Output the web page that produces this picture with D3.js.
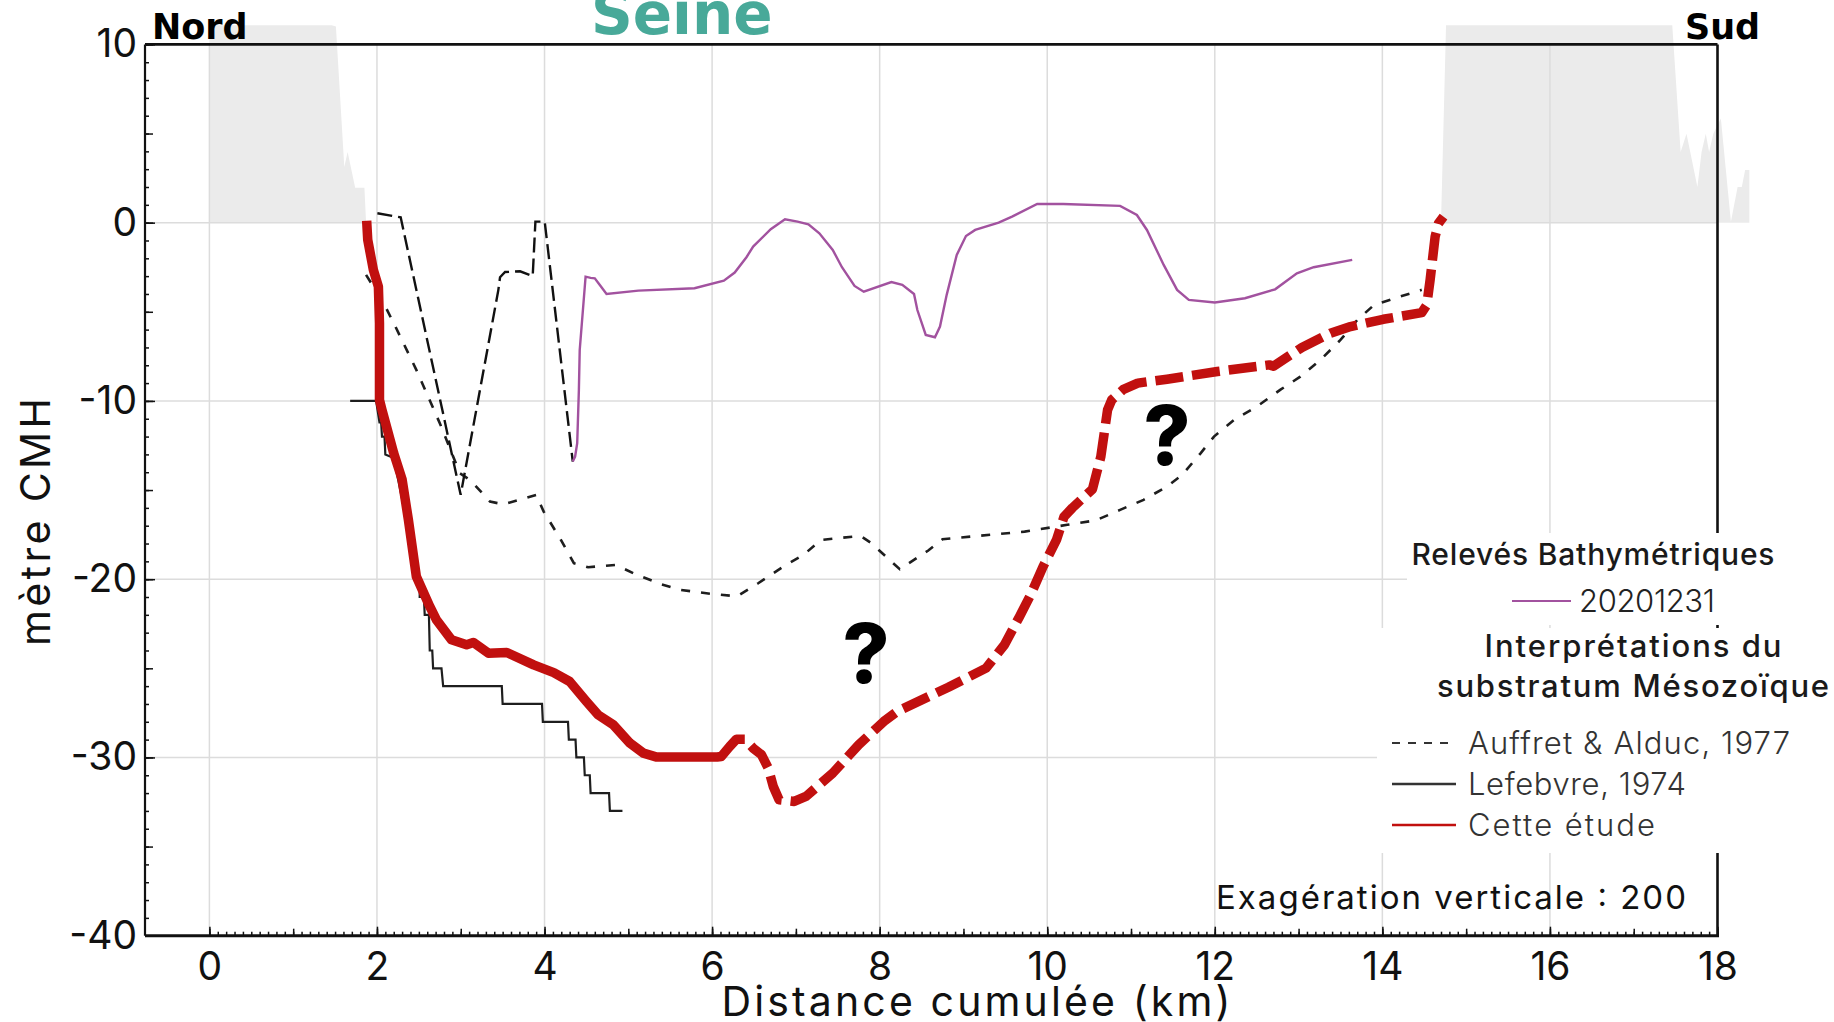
<!DOCTYPE html>
<html><head><meta charset="utf-8">
<script src="https://cdn.jsdelivr.net/npm/d3@7"></script>
<style>html,body{margin:0;padding:0;background:#fff;overflow:hidden}</style>
</head><body><svg id="c" width="1834" height="1022"></svg>
<script>
// ---------- DATA ----------
const xTickLabels = [0, 2, 4, 6, 8, 10, 12, 14, 16, 18];
const yTickLabels = [10, 0, -10, -20, -30, -40];
const xGrid = [0, 2, 4, 6, 8, 10, 12, 14, 16];
const yGrid = [0, -10, -20, -30];

// Relief émergé (km, m)
const terrainNord = [[0,0],[0,11.07],[1.46,11.07],[1.51,11.0],[1.61,3.12],[1.65,3.96],[1.74,1.96],[1.85,1.96],[1.87,0]];
const terrainSud = [[14.70,0],[14.76,11.07],[17.46,11.07],[17.56,3.96],[17.63,4.99],[17.76,2.0],[17.81,3.96],[17.86,4.99],[17.90,3.96],[17.95,4.99],[18.04,5.85],[18.16,0.05],[18.24,2.0],[18.29,2.0],[18.33,2.95],[18.38,2.95],[18.38,0]];

// Relevés bathymétriques 20201231
const bathy20201231 = [[4.337,-13.40],[4.365,-13.12],[4.39,-12.37],[4.41,-9.38],[4.42,-7.14],[4.49,-3.03],[4.55,-3.10],[4.60,-3.12],[4.66,-3.5],[4.74,-4.0],[5.12,-3.81],[5.79,-3.68],[6.14,-3.25],[6.27,-2.80],[6.41,-1.94],[6.49,-1.34],[6.70,-0.37],[6.87,0.19],[7.02,0.06],[7.15,-0.09],[7.28,-0.60],[7.44,-1.53],[7.55,-2.50],[7.70,-3.55],[7.81,-3.87],[8.14,-3.33],[8.27,-3.49],[8.41,-4.0],[8.45,-4.9],[8.55,-6.30],[8.66,-6.43],[8.72,-5.83],[8.80,-4.05],[8.92,-1.81],[9.03,-0.75],[9.14,-0.41],[9.42,0.0],[9.58,0.34],[9.88,1.05],[10.19,1.05],[10.87,0.94],[11.07,0.43],[11.19,-0.41],[11.39,-2.37],[11.55,-3.77],[11.69,-4.33],[12.0,-4.48],[12.36,-4.24],[12.72,-3.74],[12.98,-2.84],[13.18,-2.50],[13.64,-2.09]];

// Profil en tirets longs
const profilTiretsLongs = [[2.005,0.53],[2.283,0.30],[2.999,-15.27],[3.449,-3.77],[3.469,-3.06],[3.529,-2.77],[3.708,-2.73],[3.859,-2.99],[3.891,0.06],[4.002,0.06],[4.337,-13.40]];

// Auffret & Alduc, 1977
const auffretAlduc1977 = [[1.87,-2.93],[2.08,-4.52],[2.22,-5.83],[2.47,-8.26],[2.75,-11.25],[2.99,-14.06],[3.11,-14.43],[3.35,-15.65],[3.51,-15.80],[3.90,-15.27],[3.99,-16.21],[4.19,-17.75],[4.35,-19.1],[4.52,-19.33],[4.85,-19.2],[5.10,-19.75],[5.40,-20.30],[5.62,-20.6],[5.98,-20.82],[6.30,-20.96],[6.55,-20.23],[6.85,-19.29],[7.09,-18.64],[7.30,-17.8],[7.77,-17.57],[7.90,-17.98],[8.24,-19.44],[8.58,-18.39],[8.75,-17.76],[9.73,-17.33],[10.24,-16.95],[10.58,-16.70],[10.87,-16.11],[11.15,-15.55],[11.43,-14.8],[11.61,-14.15],[11.83,-12.94],[11.99,-12.0],[12.23,-11.07],[12.50,-10.32],[12.78,-9.38],[13.02,-8.64],[13.26,-7.70],[13.50,-6.58],[13.70,-5.46],[13.90,-4.62],[14.21,-4.15],[14.47,-3.77]];

// Lefebvre, 1974
const lefebvre1974 = [[1.68,-10],[1.99,-10],[2.03,-11.2],[2.05,-11.2],[2.06,-12.0],[2.09,-12.0],[2.10,-13.0],[2.2,-13.2],[2.3,-15.5],[2.4,-18.0],[2.49,-20.0],[2.51,-20.0],[2.51,-21.0],[2.56,-21.0],[2.57,-22.0],[2.62,-22.0],[2.63,-24.0],[2.66,-24.0],[2.67,-25.0],[2.77,-25.0],[2.79,-26.0],[3.49,-26.0],[3.50,-27.0],[3.97,-27.0],[3.98,-28.0],[4.28,-28.0],[4.29,-29.0],[4.37,-29.0],[4.38,-30.0],[4.47,-30.0],[4.48,-31.0],[4.54,-31.0],[4.55,-32.0],[4.77,-32.0],[4.78,-33.0],[4.93,-33.0]];

// Cette étude (partie certaine puis incertaine)
const cetteEtudeCertain = [[1.877,0.11],[1.89,-0.97],[1.957,-2.65],[2.017,-3.59],[2.03,-5.64],[2.03,-9.94],[2.06,-10.5],[2.20,-12.93],[2.30,-14.4],[2.375,-16.67],[2.47,-19.85],[2.63,-21.53],[2.71,-22.28],[2.89,-23.40],[3.07,-23.68],[3.15,-23.55],[3.33,-24.15],[3.55,-24.11],[3.87,-24.81],[4.11,-25.24],[4.30,-25.74],[4.50,-26.86],[4.64,-27.61],[4.82,-28.17],[5.02,-29.2],[5.18,-29.76],[5.34,-29.98],[6.06,-29.98],[6.11,-29.95],[6.21,-29.39],[6.29,-28.98],[6.39,-28.98]];
const cetteEtudeIncertain = [[6.39,-28.98],[6.49,-29.48],[6.59,-29.85],[6.67,-30.6],[6.73,-31.63],[6.80,-32.38],[6.98,-32.47],[7.12,-32.19],[7.44,-30.88],[7.75,-29.29],[8.05,-27.98],[8.21,-27.42],[8.82,-26.06],[9.27,-24.99],[9.49,-23.68],[9.67,-22.09],[9.80,-20.9],[9.95,-19.3],[10.11,-17.8],[10.20,-16.5],[10.30,-16.0],[10.54,-14.95],[10.64,-13.12],[10.72,-10.5],[10.77,-9.94],[10.91,-9.35],[11.08,-9.0],[11.43,-8.78],[12.03,-8.35],[12.65,-7.98],[12.70,-8.05],[13.04,-7.0],[13.38,-6.20],[13.62,-5.83],[14.01,-5.42],[14.47,-5.05],[14.53,-4.62],[14.57,-3.21],[14.63,-0.78],[14.67,-0.04],[14.73,0.34]];

const legendTitle1 = "Relevés Bathymétriques";
const legendBathy = ["20201231"];
const legendTitle2 = ["Interprétations du", "substratum Mésozoïque"];
const legendInterp = ["Auffret & Alduc, 1977", "Lefebvre, 1974", "Cette étude"];

// ---------- LAYOUT ----------
const svg = d3.select("#c");
const FONT = "Inter, 'Open Sans', sans-serif";
const x = d3.scaleLinear().domain([0, 18]).range([209.4, 1717.5]);
const y = d3.scaleLinear().domain([-40, 10]).range([935.7, 44.4]);
const axisLeftX = 145;
const RED = "#c1100f", PURPLE = "#a2529f";

const line = d3.line().x(d => x(d[0])).y(d => y(d[1]));
const area = d3.area().x(d => x(d[0])).y0(y(0)).y1(d => y(d[1]));

// terrain
svg.append("g").selectAll("path").data([terrainNord, terrainSud]).join("path")
  .attr("d", area).attr("fill", "#ebebeb");

// grid
const grid = svg.append("g").attr("stroke", "#dcdcdc").attr("stroke-width", 1.5);
grid.selectAll(".gx").data(xGrid).join("line")
  .attr("x1", d => x(d)).attr("x2", d => x(d)).attr("y1", y(10)).attr("y2", y(-40));
grid.selectAll(".gy").data(yGrid).join("line")
  .attr("x1", axisLeftX).attr("x2", x(18)).attr("y1", d => y(d)).attr("y2", d => y(d));

// series
svg.append("path").datum(lefebvre1974).attr("d", line)
  .attr("fill", "none").attr("stroke", "#1e1e1e").attr("stroke-width", 2.2);
svg.append("path").datum(auffretAlduc1977).attr("d", line)
  .attr("fill", "none").attr("stroke", "#1e1e1e").attr("stroke-width", 2.6)
  .attr("stroke-dasharray", "9,11");
svg.append("path").datum(profilTiretsLongs).attr("d", line)
  .attr("fill", "none").attr("stroke", "#111").attr("stroke-width", 2.4)
  .attr("stroke-dasharray", "15,6");
svg.append("path").datum(bathy20201231).attr("d", line)
  .attr("fill", "none").attr("stroke", PURPLE).attr("stroke-width", 2.4);
svg.append("path").datum(cetteEtudeCertain).attr("d", line)
  .attr("fill", "none").attr("stroke", RED).attr("stroke-width", 9.5)
  .attr("stroke-linejoin", "round");
svg.append("path").datum(cetteEtudeIncertain).attr("d", line)
  .attr("fill", "none").attr("stroke", RED).attr("stroke-width", 9.5)
  .attr("stroke-linejoin", "round").attr("stroke-dasharray", "28,9")
  .attr("stroke-dashoffset", 28);

// axes ticks
function styleAxis(g) { g.select(".domain").remove(); g.selectAll("line").attr("stroke", "#111").attr("stroke-width", 1.5); }
const gx = svg.append("g").attr("transform", `translate(0,${y(-40)})`);
gx.append("g").call(d3.axisBottom(x).tickValues(d3.range(0, 181).map(i => i / 10)).tickSize(-4).tickFormat("")).call(styleAxis);
gx.append("g").call(d3.axisBottom(x).tickValues(d3.range(0, 19)).tickSize(-7).tickFormat("")).call(styleAxis);
gx.append("g").call(d3.axisBottom(x).tickValues(xTickLabels).tickSize(-9).tickPadding(17).tickFormat(d3.format("d"))).call(styleAxis)
  .selectAll("text").attr("font-family", FONT).attr("font-size", 39).attr("fill", "#111");

const gy = svg.append("g").attr("transform", `translate(${axisLeftX},0)`);
gy.append("g").call(d3.axisLeft(y).tickValues(d3.range(-40, 11)).tickSize(-4).tickFormat("")).call(styleAxis);
gy.append("g").call(d3.axisLeft(y).tickValues(d3.range(-40, 11, 5)).tickSize(-8).tickFormat("")).call(styleAxis);
gy.append("g").call(d3.axisLeft(y).tickValues(yTickLabels).tickSize(-10).tickPadding(8).tickFormat(d => String(d))).call(styleAxis)
  .selectAll("text").attr("font-family", FONT).attr("font-size", 39).attr("fill", "#111");

// frame
const frame = svg.append("g").attr("stroke", "#111").attr("fill", "none");
frame.append("line").attr("x1", axisLeftX).attr("x2", x(18)).attr("y1", y(10)).attr("y2", y(10)).attr("stroke-width", 2.6);
frame.append("line").attr("x1", axisLeftX).attr("x2", x(18) + 1.5).attr("y1", y(-40)).attr("y2", y(-40)).attr("stroke-width", 3);
frame.append("line").attr("x1", axisLeftX).attr("x2", axisLeftX).attr("y1", y(10)).attr("y2", y(-40)).attr("stroke-width", 2.2);
frame.append("line").attr("x1", x(18)).attr("x2", x(18)).attr("y1", y(10)).attr("y2", y(-40)).attr("stroke-width", 2.6);

// axis titles
svg.append("text").attr("x", 976).attr("y", 1016).attr("text-anchor", "middle")
  .attr("font-family", FONT).attr("font-size", 41).attr("fill", "#111")
  .attr("textLength", 509).attr("lengthAdjust", "spacing").text("Distance cumulée (km)");
svg.append("text").attr("transform", "translate(50,522) rotate(-90)").attr("text-anchor", "middle")
  .attr("font-family", FONT).attr("font-size", 41).attr("fill", "#111")
  .attr("textLength", 248).attr("lengthAdjust", "spacing").text("mètre CMH");

// top labels
svg.append("text").attr("x", 152).attr("y", 39).attr("font-family", "'DejaVu Sans', sans-serif").attr("font-weight", 700).attr("font-size", 35).attr("fill", "#000").text("Nord");
svg.append("text").attr("x", 1685).attr("y", 39).attr("font-family", "'DejaVu Sans', sans-serif").attr("font-weight", 700).attr("font-size", 35).attr("fill", "#000").text("Sud");
svg.append("text").attr("x", 591).attr("y", 34).attr("font-family", "'DejaVu Sans', sans-serif").attr("font-weight", 700).attr("font-size", 58).attr("fill", "#48a999").text("Seine");

// question marks
svg.append("text").attr("x", 866).attr("y", 683).attr("text-anchor", "middle").attr("font-family", FONT).attr("font-weight", 800).attr("font-size", 82).attr("fill", "#000").text("?");
svg.append("text").attr("x", 1167).attr("y", 465).attr("text-anchor", "middle").attr("font-family", FONT).attr("font-weight", 800).attr("font-size", 82).attr("fill", "#000").text("?");

// exaggeration note
svg.append("text").attr("x", 1216).attr("y", 909).attr("font-family", FONT).attr("font-size", 33).attr("fill", "#111")
  .attr("textLength", 470).attr("lengthAdjust", "spacing").text("Exagération verticale : 200");

// legend boxes
svg.append("rect").attr("x", 1407).attr("y", 533).attr("width", 427).attr("height", 92).attr("fill", "#fff");
svg.append("rect").attr("x", 1377).attr("y", 628).attr("width", 457).attr("height", 225).attr("fill", "#fff");

const lg = svg.append("g").attr("font-family", FONT);
lg.append("text").attr("x", 1593).attr("y", 565).attr("text-anchor", "middle").attr("font-size", 30).attr("font-weight", 500).attr("fill", "#1a1a1a")
  .attr("textLength", 363).attr("lengthAdjust", "spacing").text(legendTitle1);
lg.append("line").attr("x1", 1512).attr("x2", 1571).attr("y1", 601).attr("y2", 601).attr("stroke", PURPLE).attr("stroke-width", 2);
lg.append("text").attr("x", 1579).attr("y", 612).attr("font-size", 31).attr("font-weight", 300).attr("fill", "#222")
  .attr("textLength", 136).attr("lengthAdjust", "spacing").text(legendBathy[0]);
const t2Len = [297, 392];
lg.selectAll(".t2").data(legendTitle2).join("text")
  .attr("x", 1633).attr("y", (d, i) => 657 + i * 40).attr("text-anchor", "middle")
  .attr("font-size", 31).attr("font-weight", 500).attr("fill", "#1a1a1a")
  .attr("textLength", (d, i) => t2Len[i]).attr("lengthAdjust", "spacing").text(d => d);
const entryStyles = [
  {stroke: "#333", dash: "8,8", w: 2, len: 322},
  {stroke: "#333", dash: null, w: 2.5, len: 218},
  {stroke: RED, dash: null, w: 2.5, len: 187}
];
legendInterp.forEach((label, i) => {
  const yy = 743 + i * 41;
  lg.append("line").attr("x1", 1392).attr("x2", 1456).attr("y1", yy).attr("y2", yy)
    .attr("stroke", entryStyles[i].stroke).attr("stroke-width", entryStyles[i].w)
    .attr("stroke-dasharray", entryStyles[i].dash);
  lg.append("text").attr("x", 1468).attr("y", yy + 11).attr("font-size", 31).attr("font-weight", 300).attr("fill", "#333")
    .attr("textLength", entryStyles[i].len).attr("lengthAdjust", "spacing").text(label);
});
</script></body></html>
